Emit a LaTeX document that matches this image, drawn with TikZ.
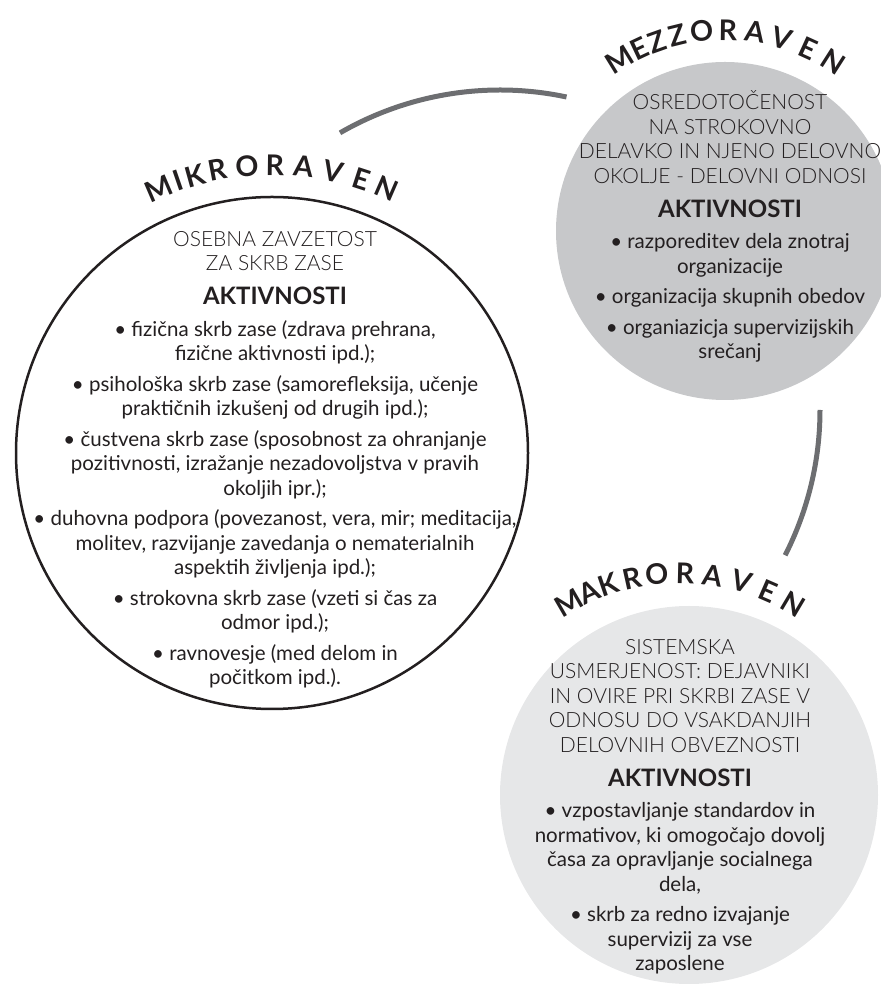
\documentclass[tikz,border=0pt]{standalone}
\usepackage{fontspec}
\setmainfont{Lato}
\IfFontExistsTF{Lato Light}{\newfontfamily\latolight{Lato Light}}{\newfontfamily\latolight{Lato}}
\usepackage{tikz}
\definecolor{ink}{HTML}{231F20}
\definecolor{mezzogray}{HTML}{C7C8CA}
\definecolor{makrogray}{HTML}{E6E7E8}
\definecolor{ringgray}{HTML}{6D6E71}
\newcommand{\hdr}{\latolight\fontsize{21}{24.5}\selectfont}
\newcommand{\akt}{\normalfont\bfseries\fontsize{24}{24.5}\selectfont}
\newcommand{\itm}{\normalfont\fontsize{20.5}{24.5}\selectfont}

\begin{document}
\begin{tikzpicture}[x=1pt,y=1pt,
    every node/.style={text=ink},
    level/.style={circle,inner sep=0pt,minimum size=#1},
    blocktext/.style={align=center,inner sep=0pt,font=\itm},
    letter/.style={inner sep=0pt,font=\bfseries\fontsize{28.5}{28.5}\selectfont}]
  \useasboundingbox (0,0) rectangle (881,991);
  \clip (0,0) rectangle (881,991);
  \coordinate (ring) at (500,581);
  \draw[ringgray,line width=5pt] ([shift={(120:320)}]ring) arc[start angle=120,end angle=78,radius=320];
  \draw[ringgray,line width=5pt] ([shift={(0:320)}]ring) arc[start angle=0,end angle=-27,radius=320];

  \node[level=512pt,draw=ink,line width=2.5pt,fill=white] (mikro) at (272,538) {};
  \node[level=338pt,fill=mezzogray] (mezzo) at (725,760) {};
  \node[level=378pt,fill=makrogray] (makro) at (689,196) {};
  \coordinate (makroarc) at ([xshift=-9pt]makro.center);

  \foreach \ch/\ang in {M/113.2,I/109,K/105.5,R/100.8,O/95,R/89.4,A/83.7,V/77.6,E/72,N/66.5}
    \node[letter,rotate=\ang-90] at ([shift={(\ang:288)}]mikro.center) {\ch};
  \foreach \ch/\ang in {M/121.6,E/115.1,Z/109.6,Z/103.8,O/96.7,R/89.2,A/81.4,V/73.5,E/65.5,N/57.4}
    \node[letter,rotate=\ang-90] at ([shift={(\ang:201)}]mezzo.center) {\ch};
  \foreach \ch/\ang in {M/120.1,A/114.2,K/108.8,R/102.5,O/96,R/88.7,A/81.6,V/73.9,E/66.5,N/59.3}
    \node[letter,rotate=\ang-90] at ([shift={(\ang:222)}]makroarc) {\ch};

  \node[blocktext] (mikrotxt) at (275,531.5) {\hdr OSEBNA ZAVZETOST\\ \hdr ZA SKRB ZASE\\[9.5pt]
    \akt AKTIVNOSTI\\[7pt]
    \itm • fizična skrb zase (zdrava prehrana,\\ \itm fizične aktivnosti ipd.);\\[6pt]
    \itm • psihološka skrb zase (samorefleksija, učenje\\ \itm praktičnih izkušenj od drugih ipd.);\\[6pt]
    \itm • čustvena skrb zase (sposobnost za ohranjanje\\ \itm pozitivnosti, izražanje nezadovoljstva v pravih\\ \itm okoljih ipr.);\\[6pt]
    \itm • duhovna podpora (povezanost, vera, mir; meditacija,\\ \itm molitev, razvijanje zavedanja o nematerialnih\\ \itm aspektih življenja ipd.);\\[6pt]
    \itm • strokovna skrb zase (vzeti si čas za\\ \itm odmor ipd.);\\[6pt]
    \itm • ravnovesje (med delom in\\ \itm počitkom ipd.).};
  \node[blocktext] (mezzotxt) at (730,764.5) {\hdr OSREDOTOČENOST\\ \hdr NA STROKOVNO\\ \hdr DELAVKO IN NJENO DELOVNO\\ \hdr OKOLJE - DELOVNI ODNOSI\\[9.5pt]
    \akt AKTIVNOSTI\\[7pt]
    \itm • razporeditev dela znotraj\\ \itm organizacije\\[6pt]
    \itm • organizacija skupnih obedov\\[6pt]
    \itm • organiazicja supervizijskih\\ \itm srečanj};
  \node[blocktext] (makrotxt) at (680,184.5) {\hdr SISTEMSKA\\ \hdr USMERJENOST: DEJAVNIKI\\ \hdr IN OVIRE PRI SKRBI ZASE V\\ \hdr ODNOSU DO VSAKDANJIH\\ \hdr DELOVNIH OBVEZNOSTI\\[9.5pt]
    \akt AKTIVNOSTI\\[7pt]
    \itm • vzpostavljanje standardov in\\ \itm normativov, ki omogočajo dovolj\\ \itm časa za opravljanje socialnega\\ \itm dela,\\[6pt]
    \itm • skrb za redno izvajanje\\ \itm supervizij za vse\\ \itm zaposlene};
\end{tikzpicture}
\end{document}
